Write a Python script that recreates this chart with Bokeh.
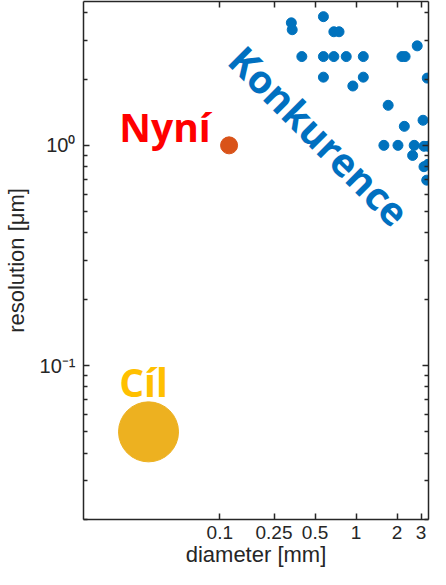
from bokeh.plotting import figure
from bokeh.models import LogAxis, FixedTicker
from bokeh.core.properties import value
from bokeh.embed import file_html
from bokeh.resources import INLINE
import math

# ---- data ----
comp_diameter = [0.335, 0.34, 0.576, 0.687, 0.75,
                 0.40, 0.576, 0.687, 0.847, 1.13, 2.17, 2.29, 2.81,
                 0.576, 1.13, 0.947, 3.33,
                 1.72, 3.10, 2.26,
                 1.60, 2.03, 2.67, 3.15, 3.37,
                 2.60, 3.15, 3.37, 3.30]
comp_resolution = [3.60, 3.35, 3.84, 3.28, 3.28,
                   2.53, 2.53, 2.53, 2.53, 2.53, 2.53, 2.53, 2.83,
                   2.04, 2.04, 1.86, 2.02,
                   1.52, 1.30, 1.22,
                   1.0, 1.0, 1.0, 0.99, 0.99,
                   0.90, 0.80, 0.82, 0.695]
now_diameter = [0.117]
now_resolution = [1.0]
goal_diameter = [0.030]
goal_resolution = [0.050]

x_ticks = [0.1, 0.25, 0.5, 1, 2, 3]
x_tick_labels = ["0.1", "0.25", "0.5", "1", "2", "3"]
y_ticks = [0.1, 1]
y_tick_labels = ["10\u207b\u00b9", "10\u2070"]
y_minor = [0.02, 0.03, 0.04, 0.05, 0.06, 0.07, 0.08, 0.09,
           0.2, 0.3, 0.4, 0.5, 0.6, 0.7, 0.8, 0.9, 2, 3, 4]

labels = ["Nyní", "Cíl", "Konkurence"]

# annotation anchors (data coords)
nyni_pos = (0.0183, 1.22)
cil_pos = (0.0183, 0.0846)
konk_pos = (0.133, 2.647)

AX = "#262626"
FONT = "Liberation Sans"

p = figure(width=430, height=569, x_axis_type="log", y_axis_type="log",
           x_range=(0.01, 3.4), y_range=(0.02, 4.5),
           output_backend="svg", toolbar_location=None,
           min_border_left=83, min_border_right=2, min_border_top=1,
           min_border_bottom=50)
p.grid.visible = False
p.outline_line_color = None
p.background_fill_color = "white"
p.border_fill_color = "white"

xt = FixedTicker(ticks=x_ticks, minor_ticks=[])
yt = FixedTicker(ticks=y_ticks, minor_ticks=y_minor)


def style(ax, ticker):
    ax.ticker = ticker
    ax.axis_line_color = AX
    ax.axis_line_width = 1.5
    ax.major_tick_line_color = AX
    ax.minor_tick_line_color = AX
    ax.major_tick_line_width = 1.5
    ax.minor_tick_line_width = 1.5
    ax.major_tick_in = 6
    ax.major_tick_out = 0
    ax.minor_tick_in = 4
    ax.minor_tick_out = 0
    ax.major_label_text_color = AX
    ax.major_label_text_font = FONT
    ax.axis_label_text_color = AX
    ax.axis_label_text_font = FONT
    ax.axis_label_text_font_style = "normal"


xa = p.xaxis[0]
style(xa, xt)
xa.major_label_overrides = dict(zip(x_ticks, x_tick_labels))
xa.major_label_text_font_size = "19px"
xa.major_label_standoff = 6
xa.axis_label = "diameter [mm]"
xa.axis_label_text_font_size = "22px"
xa.axis_label_standoff = 0

ya = p.yaxis[0]
style(ya, yt)
ya.major_label_overrides = dict(zip(y_ticks, y_tick_labels))
ya.major_label_text_font_size = "20px"
ya.major_label_standoff = 8
ya.axis_label = "resolution [\u03bcm]"
ya.axis_label_text_font_size = "22px"
ya.axis_label_standoff = 8

top = LogAxis()
style(top, xt)
top.major_label_text_font_size = "1px"
top.major_label_text_alpha = 0
top.major_label_standoff = 0
p.add_layout(top, "above")

right = LogAxis()
style(right, yt)
right.major_label_text_font_size = "1px"
right.major_label_text_alpha = 0
right.major_label_standoff = 0
p.add_layout(right, "right")

# data marks
p.scatter(comp_diameter, comp_resolution, size=10, color="#0072BD")
p.scatter(now_diameter, now_resolution, size=17, color="#D95319")
p.scatter(goal_diameter, goal_resolution, size=60, color="#EDB120")

# annotations
p.text(x=[nyni_pos[0]], y=[nyni_pos[1]], text=[labels[0]],
       text_font=value("Open Sans"), text_font_style="bold",
       text_font_size="39px", text_color="#FF0000",
       text_align="left", text_baseline="alphabetic")
p.text(x=[cil_pos[0]], y=[cil_pos[1]], text=[labels[1]],
       text_font=value("Open Sans"), text_font_style="bold",
       text_font_size="39px", text_color="#FFC000",
       text_align="left", text_baseline="alphabetic")
p.text(x=[konk_pos[0]], y=[konk_pos[1]], text=[labels[2]],
       text_font=value("Open Sans"), text_font_style="bold",
       text_font_size="39px", text_color="#0070C0",
       text_align="left", text_baseline="alphabetic", angle=-math.pi / 4)

open("out.html", "w").write(file_html(p, INLINE))
